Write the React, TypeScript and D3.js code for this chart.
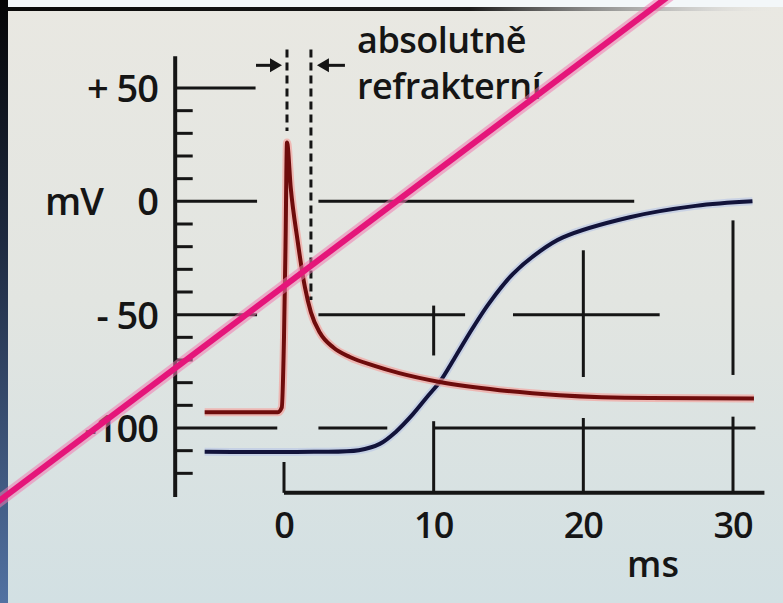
import React from "react";
import * as d3 from "d3";

// ---- data (ms, mV) ----
const actionPotential: [number, number][] = [
  [-5.3, -93], [-0.4, -93], [-0.15, -91], [0.0, -60], [0.1, -20], [0.2, 26],
  [0.45, 6], [0.9, -17], [1.4, -38], [1.8, -49], [2.4, -58], [3.3, -64.5],
  [4.4, -68.7], [6, -72.5], [7.7, -75.8], [10.4, -79.7], [14.4, -83.3],
  [18.4, -85.5], [24.4, -86.8], [31.4, -87],
];
const excitability: [number, number][] = [
  [-5.3, -110.5], [2, -110.5], [5, -109.8], [6.4, -107], [7.5, -101.5],
  [8.6, -94], [9.6, -86], [10.4, -79.7], [11.5, -68], [12.6, -56],
  [13.7, -45], [15.3, -32], [17, -22.5], [18.6, -16], [23.1, -7],
  [27.5, -2], [31.3, 0],
];
const xTicks = [0, 10, 20, 30];
const xTickLabels = ["0", "10", "20", "30"];
const yMajor = [50, 0, -50, -100];
const yMajorLabels = ["+ 50", "0", "- 50", "-100"];
const yMinor = [40, 30, 20, 10, -10, -20, -30, -40, -60, -70, -80, -90, -110, -120];
// horizontal segments: [mV, fromMs, toMs]
const hSegments: [number, number, number][] = [
  [50, -7.27, -1.9],
  [0, -7.27, -1.8], [0, 2.3, 23.4],
  [-50, -7.27, -1.8], [-50, 2.3, 12.1], [-50, 15.3, 25.1],
  [-100, -7.27, -0.45], [-100, 2.3, 6.9], [-100, 10, 31.5],
  [-128.6, 0, 32.1],
];
// vertical segments: [ms, fromMv, toMv]
const vSegments: [number, number, number][] = [
  [10, -46, -68], [20, -21.6, -77.5], [30, -8.4, -76.6],
  [0, -115, -128.6], [10, -97, -128.6], [20, -95.6, -128.6], [30, -95, -128.6],
];
// refractory markers: [ms, topMv, bottomMv]
const refractoryLines: [number, number, number][] = [
  [0.2, 67, 31], [1.8, 67, -43.5],
];
const refractoryLabel = ["absolutně", "refrakterní"];
const yUnit = "mV";
const xUnit = "ms";
const strike: [number, number][] = [[-19.6, -135], [26, 92]];

export default function App() {
  const W = 783, H = 603;
  const x = d3.scaleLinear().domain([0, 30]).range([284, 733]);
  const y = d3.scaleLinear().domain([-100, 50]).range([428, 88]);
  const axisMs = -7.27;
  const line = d3.line<[number, number]>().x(d => x(d[0])).y(d => y(d[1])).curve(d3.curveMonotoneX);
  const smooth = d3.line<[number, number]>().x(d => x(d[0])).y(d => y(d[1])).curve(d3.curveCatmullRom.alpha(0.5));
  const ink = "#151515";
  const font = "'Open Sans', sans-serif";

  const arrowY = y(60);
  const la = x(refractoryLines[0][0]) - 5;
  const ra = x(refractoryLines[1][0]) + 6;

  return (
    <svg width={W} height={H} style={{ position: "fixed", left: 0, top: 0 }}>
      <defs>
        <linearGradient id="bg" x1="0" y1="0" x2="0" y2="1">
          <stop offset="0" stopColor="#e9e8e2" />
          <stop offset="0.5" stopColor="#e2e5e1" />
          <stop offset="1" stopColor="#d2e0e3" />
        </linearGradient>
        <linearGradient id="lstrip" x1="0" y1="0" x2="0" y2="1">
          <stop offset="0" stopColor="#050505" />
          <stop offset="0.4" stopColor="#1e2a40" />
          <stop offset="1" stopColor="#5272a2" />
        </linearGradient>
        <linearGradient id="tbar" x1="0" y1="0" x2="1" y2="0">
          <stop offset="0" stopColor="#0a0a0a" />
          <stop offset="0.6" stopColor="#1a1a1a" />
          <stop offset="0.9" stopColor="#c8c8c8" stopOpacity="0.6" />
          <stop offset="1" stopColor="#ecebe6" stopOpacity="0" />
        </linearGradient>
      </defs>
      <rect x={0} y={0} width={W} height={H} fill="url(#bg)" />
      <rect x={0} y={0} width={W} height={7} fill="#f3f7f9" />
      <rect x={0} y={7} width={W} height={4} fill="url(#tbar)" />
      <rect x={0} y={0} width={8} height={H} fill="url(#lstrip)" />

      {/* grid segments */}
      {hSegments.map((s, i) => (
        <line key={"h" + i} x1={x(s[1])} x2={x(s[2])} y1={y(s[0])} y2={y(s[0])} stroke={ink} strokeWidth={i === hSegments.length - 1 ? 4 : 3} />
      ))}
      {vSegments.map((s, i) => (
        <line key={"v" + i} x1={x(s[0])} x2={x(s[0])} y1={y(s[1])} y2={y(s[2])} stroke={ink} strokeWidth={3} />
      ))}
      {/* y axis */}
      <line x1={x(axisMs)} x2={x(axisMs)} y1={y(64)} y2={y(-130.4)} stroke={ink} strokeWidth={4} />
      {yMinor.map(v => (
        <line key={"m" + v} x1={x(axisMs)} x2={x(-6.1)} y1={y(v)} y2={y(v)} stroke={ink} strokeWidth={3} />
      ))}
      {yMajor.map((v, i) => (
        <text key={"yl" + v} x={158} y={y(v) + 14} textAnchor="end" fontFamily={font} fontSize={38} fontWeight={600} fill={ink} letterSpacing={-1}>{yMajorLabels[i]}</text>
      ))}
      <text x={45} y={y(0) + 14} fontFamily={font} fontSize={38} fontWeight={600} fill={ink} letterSpacing={-1}>{yUnit}</text>
      {xTicks.map((t, i) => (
        <text key={"xl" + t} x={x(t)} y={538} textAnchor="middle" fontFamily={font} fontSize={36} fontWeight={600} fill={ink} letterSpacing={-1}>{xTickLabels[i]}</text>
      ))}
      <text x={653} y={577} textAnchor="middle" fontFamily={font} fontSize={36} fontWeight={600} fill={ink}>{xUnit}</text>

      {/* curves */}
      <path d={smooth(excitability) || ""} fill="none" stroke="#b8c4e6" strokeWidth={8} strokeOpacity={0.6} />
      <path d={smooth(excitability) || ""} fill="none" stroke="#12133a" strokeWidth={4} />
      <path d={line(actionPotential) || ""} fill="none" stroke="#f3a4a0" strokeWidth={8} strokeOpacity={0.7} />
      <path d={line(actionPotential) || ""} fill="none" stroke="#6e0c0c" strokeWidth={4} />

      {/* refractory markers */}
      {refractoryLines.map((r, i) => (
        <line key={"r" + i} x1={x(r[0])} x2={x(r[0])} y1={y(r[1])} y2={y(r[2])} stroke={ink} strokeWidth={3} strokeDasharray="8 5" />
      ))}
      <line x1={la - 26} x2={la - 8} y1={arrowY} y2={arrowY} stroke={ink} strokeWidth={3} />
      <path d={`M${la},${arrowY} L${la - 12},${arrowY - 7} L${la - 12},${arrowY + 7} Z`} fill={ink} />
      <line x1={ra + 8} x2={ra + 28} y1={arrowY} y2={arrowY} stroke={ink} strokeWidth={3} />
      <path d={`M${ra},${arrowY} L${ra + 12},${arrowY - 7} L${ra + 12},${arrowY + 7} Z`} fill={ink} />
      {refractoryLabel.map((t, i) => (
        <text key={"t" + i} x={357} y={53 + i * 46} fontFamily={font} fontSize={36} fontWeight={600} fill={ink} letterSpacing={-0.5}>{t}</text>
      ))}

      {/* pink strike-through */}
      <line x1={x(strike[0][0])} y1={y(strike[0][1])} x2={x(strike[1][0])} y2={y(strike[1][1])} stroke="#f07ab0" strokeOpacity={0.55} strokeWidth={12} />
      <line x1={x(strike[0][0])} y1={y(strike[0][1])} x2={x(strike[1][0])} y2={y(strike[1][1])} stroke="#e5157a" strokeWidth={6} />
    </svg>
  );
}
